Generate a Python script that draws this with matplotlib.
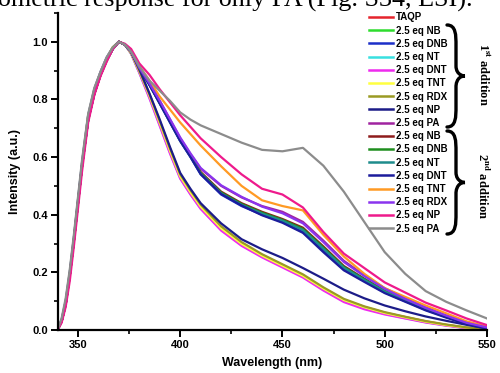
import matplotlib
matplotlib.use("Agg")
import matplotlib.pyplot as plt
from matplotlib.lines import Line2D
from matplotlib.path import Path
from matplotlib.patches import PathPatch
from matplotlib.ticker import MultipleLocator
import matplotlib.transforms as mtransforms

plt.rcParams['font.family'] = ['Liberation Sans', 'DejaVu Sans']
plt.rcParams['mathtext.fontset'] = 'stix'

# wavelength grid (nm)
wl = [340, 342, 344, 346, 348, 350, 352, 355, 358, 361, 364, 367, 370,
      373, 376, 380, 385, 390, 395, 400, 405, 410, 420, 430, 440, 450,
      460, 470, 480, 490, 500, 510, 520, 530, 540, 550]

# normalised emission spectra
taqp = [0.0, 0.03, 0.09, 0.19, 0.31, 0.44, 0.57, 0.74, 0.83, 0.89, 0.94, 0.98, 1.0,
        0.99, 0.96, 0.90, 0.815, 0.72, 0.625, 0.535, 0.48, 0.43, 0.355, 0.30, 0.26, 0.225,
        0.19, 0.145, 0.105, 0.08, 0.06, 0.045, 0.03, 0.018, 0.008, 0.003]
nb1 = [0.0, 0.035, 0.10, 0.20, 0.32, 0.45, 0.58, 0.745, 0.835, 0.895, 0.945, 0.98, 1.0,
       0.99, 0.96, 0.895, 0.81, 0.715, 0.62, 0.53, 0.475, 0.425, 0.35, 0.297, 0.257, 0.222,
       0.187, 0.143, 0.103, 0.078, 0.058, 0.043, 0.028, 0.017, 0.007, 0.003]
dnb1 = [0.0, 0.03, 0.09, 0.19, 0.31, 0.44, 0.57, 0.73, 0.82, 0.885, 0.935, 0.975, 1.0,
        0.99, 0.965, 0.91, 0.85, 0.785, 0.72, 0.655, 0.60, 0.54, 0.47, 0.43, 0.40, 0.375,
        0.34, 0.275, 0.21, 0.17, 0.13, 0.10, 0.07, 0.045, 0.022, 0.005]
nt1 = [0.0, 0.035, 0.10, 0.20, 0.32, 0.45, 0.58, 0.745, 0.835, 0.895, 0.945, 0.98, 1.0,
       0.99, 0.958, 0.893, 0.805, 0.71, 0.615, 0.527, 0.472, 0.422, 0.348, 0.295, 0.255, 0.22,
       0.185, 0.14, 0.10, 0.075, 0.056, 0.041, 0.027, 0.016, 0.007, 0.002]
dnt1 = [0.0, 0.035, 0.10, 0.20, 0.32, 0.45, 0.58, 0.745, 0.835, 0.895, 0.945, 0.98, 1.0,
        0.99, 0.958, 0.892, 0.803, 0.708, 0.612, 0.525, 0.47, 0.42, 0.345, 0.292, 0.252, 0.217,
        0.182, 0.137, 0.097, 0.072, 0.054, 0.04, 0.026, 0.015, 0.006, 0.002]
tnt1 = [0.0, 0.03, 0.09, 0.19, 0.31, 0.44, 0.57, 0.74, 0.83, 0.89, 0.94, 0.98, 1.0,
        0.99, 0.96, 0.898, 0.812, 0.718, 0.622, 0.533, 0.478, 0.428, 0.353, 0.299, 0.258, 0.223,
        0.188, 0.144, 0.104, 0.079, 0.059, 0.044, 0.029, 0.017, 0.008, 0.003]
rdx1 = [0.0, 0.03, 0.09, 0.19, 0.31, 0.44, 0.57, 0.74, 0.83, 0.89, 0.94, 0.98, 1.0,
        0.99, 0.962, 0.90, 0.818, 0.725, 0.63, 0.54, 0.485, 0.435, 0.36, 0.305, 0.263, 0.228,
        0.193, 0.148, 0.108, 0.082, 0.062, 0.046, 0.031, 0.019, 0.009, 0.003]
np1 = [0.0, 0.03, 0.09, 0.19, 0.31, 0.44, 0.57, 0.73, 0.825, 0.885, 0.935, 0.975, 1.0,
       0.99, 0.965, 0.905, 0.82, 0.73, 0.635, 0.545, 0.49, 0.44, 0.37, 0.315, 0.28, 0.25,
       0.215, 0.178, 0.14, 0.11, 0.085, 0.065, 0.047, 0.032, 0.018, 0.006]
pa1 = [0.0, 0.03, 0.09, 0.19, 0.31, 0.44, 0.57, 0.73, 0.82, 0.885, 0.935, 0.975, 1.0,
       0.99, 0.965, 0.91, 0.855, 0.795, 0.73, 0.665, 0.61, 0.56, 0.50, 0.46, 0.43, 0.41,
       0.375, 0.31, 0.24, 0.19, 0.145, 0.11, 0.078, 0.05, 0.025, 0.01]
nb2 = [0.0, 0.03, 0.09, 0.19, 0.31, 0.44, 0.57, 0.73, 0.82, 0.885, 0.935, 0.975, 1.0,
       0.99, 0.965, 0.91, 0.852, 0.79, 0.725, 0.66, 0.605, 0.548, 0.48, 0.44, 0.41, 0.385,
       0.355, 0.29, 0.222, 0.178, 0.137, 0.105, 0.074, 0.048, 0.024, 0.007]
dnb2 = [0.0, 0.03, 0.09, 0.19, 0.31, 0.44, 0.57, 0.73, 0.82, 0.885, 0.935, 0.975, 1.0,
        0.99, 0.965, 0.91, 0.851, 0.788, 0.723, 0.658, 0.603, 0.545, 0.477, 0.437, 0.407, 0.382,
        0.351, 0.286, 0.219, 0.176, 0.135, 0.103, 0.073, 0.047, 0.023, 0.006]
nt2 = [0.0, 0.03, 0.09, 0.19, 0.31, 0.44, 0.57, 0.73, 0.82, 0.885, 0.935, 0.975, 1.0,
       0.99, 0.965, 0.91, 0.85, 0.787, 0.722, 0.657, 0.602, 0.543, 0.474, 0.434, 0.404, 0.379,
       0.347, 0.282, 0.216, 0.174, 0.133, 0.102, 0.072, 0.046, 0.023, 0.006]
dnt2 = [0.0, 0.03, 0.09, 0.19, 0.31, 0.44, 0.57, 0.73, 0.82, 0.885, 0.935, 0.975, 1.0,
        0.99, 0.965, 0.91, 0.85, 0.786, 0.721, 0.656, 0.601, 0.541, 0.472, 0.432, 0.398, 0.372,
        0.337, 0.27, 0.207, 0.167, 0.128, 0.098, 0.068, 0.043, 0.02, 0.004]
tnt2 = [0.0, 0.03, 0.09, 0.19, 0.31, 0.44, 0.57, 0.73, 0.82, 0.885, 0.935, 0.975, 1.0,
        0.99, 0.968, 0.915, 0.865, 0.81, 0.765, 0.72, 0.68, 0.64, 0.568, 0.50, 0.45, 0.43,
        0.415, 0.33, 0.255, 0.195, 0.145, 0.115, 0.085, 0.058, 0.03, 0.012]
rdx2 = [0.0, 0.03, 0.09, 0.19, 0.31, 0.44, 0.57, 0.73, 0.82, 0.885, 0.935, 0.975, 1.0,
        0.99, 0.965, 0.91, 0.855, 0.795, 0.732, 0.668, 0.613, 0.562, 0.502, 0.462, 0.428, 0.405,
        0.37, 0.305, 0.236, 0.187, 0.143, 0.108, 0.077, 0.05, 0.025, 0.009]
np2 = [0.0, 0.025, 0.08, 0.17, 0.29, 0.42, 0.55, 0.72, 0.815, 0.88, 0.93, 0.975, 1.0,
       0.993, 0.975, 0.925, 0.885, 0.835, 0.79, 0.745, 0.705, 0.665, 0.60, 0.54, 0.49, 0.47,
       0.425, 0.34, 0.265, 0.215, 0.165, 0.13, 0.095, 0.068, 0.04, 0.017]
pa2 = [0.0, 0.04, 0.11, 0.21, 0.33, 0.46, 0.59, 0.75, 0.84, 0.895, 0.945, 0.98, 1.0,
       0.99, 0.965, 0.915, 0.865, 0.83, 0.795, 0.755, 0.73, 0.71, 0.68, 0.65, 0.625, 0.62,
       0.632, 0.57, 0.48, 0.375, 0.27, 0.195, 0.135, 0.098, 0.068, 0.04]

labels = ['TAQP', '2.5 eq NB', '2.5 eq DNB', '2.5 eq NT', '2.5 eq DNT', '2.5 eq TNT',
          '2.5 eq RDX', '2.5 eq NP', '2.5 eq PA', '2.5 eq NB', '2.5 eq DNB', '2.5 eq NT',
          '2.5 eq DNT', '2.5 eq TNT', '2.5 eq RDX', '2.5 eq NP', '2.5 eq PA']
series = [taqp, nb1, dnb1, nt1, dnt1, tnt1, rdx1, np1, pa1,
          nb2, dnb2, nt2, dnt2, tnt2, rdx2, np2, pa2]
colors = ['#e5242c', '#2edc2e', '#1c2fc8', '#38e0e0', '#ee2bee', '#ffff40',
          '#9a9a24', '#1c1c88', '#a024a0', '#8e1c1c', '#1e8e1e', '#1e8c8c',
          '#1c1c9c', '#ff9a24', '#8a34ee', '#ee1a8c', '#8c8c8c']

fig = plt.figure(figsize=(5.0, 3.73), dpi=100)
ax = fig.add_axes([0.115, 0.1153, 0.859, 0.85])

for y, c in zip(series, colors):
    ax.plot(wl, y, color=c, lw=1.6, solid_joinstyle='round')

ax.set_xlim(340, 550)
ax.xaxis.set_major_locator(MultipleLocator(50))
ax.xaxis.set_minor_locator(MultipleLocator(25))
ax.yaxis.set_minor_locator(MultipleLocator(0.1))
ax.set_yticks([0.0, 0.2, 0.4, 0.6, 0.8, 1.0])
ax.set_yticklabels(['0.0', '0.2', '0.4', '0.6', '0.8', '1.0'])
ax.set_ylim(0, 1.1)
ax.spines['top'].set_visible(False)
ax.spines['right'].set_visible(False)
for s in ['left', 'bottom']:
    ax.spines[s].set_linewidth(1.6)
ax.tick_params(which='major', direction='out', length=5, width=1.4, labelsize=8, pad=2)
ax.tick_params(which='minor', direction='out', length=3, width=1.2)
for lab in ax.get_xticklabels() + ax.get_yticklabels():
    lab.set_fontweight('bold')
ax.set_xlabel('Wavelength (nm)', fontsize=9, fontweight='bold', labelpad=5)
ax.set_ylabel('Intensity (a.u.)', fontsize=9, fontweight='bold', labelpad=8)

handles = [Line2D([], [], color=c, lw=1.8) for c in colors]
ax.legend(handles, labels, loc='upper left', bbox_to_anchor=(0.738, 0.967),
          bbox_transform=fig.transFigure, frameon=False,
          prop={'size': 7, 'weight': 'bold'}, handlelength=2.5, handletextpad=0.3,
          labelspacing=0.33, borderpad=0, borderaxespad=0)

# braces in pixel coordinates (origin top-left)
px = mtransforms.Affine2D().scale(1 / 500, -1 / 373).translate(0, 1) + fig.transFigure


def brace(x0, y0, y1, w):
    ym = (y0 + y1) / 2
    h = y1 - y0
    verts = [(x0, y0),
             (x0 + w * 0.5, y0), (x0 + w * 0.5, y0 + h * 0.1), (x0 + w * 0.5, y0 + h * 0.2),
             (x0 + w * 0.5, ym - h * 0.1),
             (x0 + w * 0.5, ym), (x0 + w, ym), (x0 + w, ym),
             (x0 + w * 0.5, ym), (x0 + w * 0.5, ym + h * 0.1), (x0 + w * 0.5, ym + h * 0.1),
             (x0 + w * 0.5, y1 - h * 0.2),
             (x0 + w * 0.5, y1 - h * 0.1), (x0 + w * 0.5, y1), (x0, y1)]
    codes = [Path.MOVETO, Path.CURVE4, Path.CURVE4, Path.CURVE4, Path.LINETO,
             Path.CURVE4, Path.CURVE4, Path.CURVE4, Path.CURVE4, Path.CURVE4, Path.CURVE4,
             Path.LINETO, Path.CURVE4, Path.CURVE4, Path.CURVE4]
    fig.add_artist(PathPatch(Path(verts, codes), transform=px, fill=False,
                             lw=2.4, color='black', capstyle='round'))


brace(447, 25, 127, 18)
brace(447, 131, 234, 18)
fig.text(0.966, 1 - 74 / 373, r'1$^{\mathbf{st}}$ addition', rotation=270,
         ha='center', va='center', fontsize=9, fontweight='bold', family='Liberation Serif')
fig.text(0.966, 1 - 186 / 373, r'2$^{\mathbf{nd}}$ addition', rotation=270,
         ha='center', va='center', fontsize=9, fontweight='bold', family='Liberation Serif')

# cropped line of page text above the chart
fig.text(473 / 500, 1 - 7 / 373, 'fluorometric response for only PA (Fig. S34, ESI).',
         ha='right', va='baseline', fontsize=18.8, family='Liberation Serif')

fig.savefig('out.png', dpi=100)
